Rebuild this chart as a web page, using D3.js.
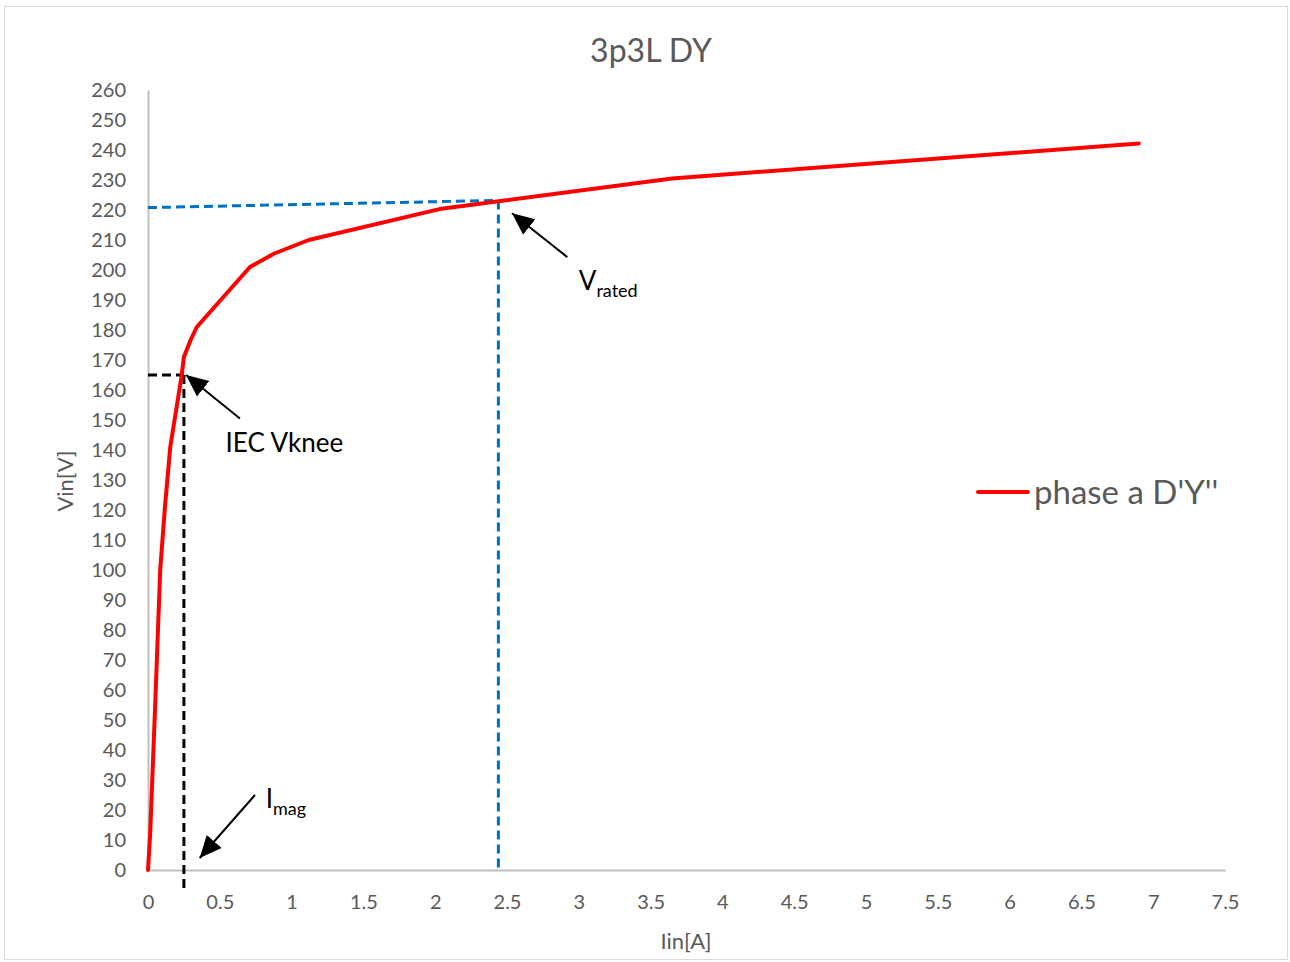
<!DOCTYPE html>
<html>
<head>
<meta charset="utf-8">
<script src="https://cdn.jsdelivr.net/npm/d3@7"></script>
<style>
  body { margin: 0; background: #fff; }
  svg text { font-family: Lato, "Open Sans", sans-serif; }
</style>
</head>
<body>
<svg width="1290" height="962"></svg>
<script>
// magnetising curve
const current = [0, 0.015, 0.05, 0.085, 0.118, 0.155, 0.235, 0.25, 0.3, 0.34, 0.71, 0.88, 1.12, 2.03, 3.65, 6.9];
const voltage = [0, 12, 55, 100, 121, 141, 165, 171, 177, 181, 201, 205.5, 210, 220.3, 230.5, 242.2];

const xTicks = [0, 0.5, 1, 1.5, 2, 2.5, 3, 3.5, 4, 4.5, 5, 5.5, 6, 6.5, 7, 7.5];
const yTicks = d3.range(0, 261, 10);

// guide lines [x1, y1, x2, y2] in data units
const kneeLines = [[0, 165, 0.25, 165], [0.25, 165, 0.25, -6]];
const ratedLines = [[0, 220.8, 2.44, 223.2], [2.44, 223.2, 2.44, 0]];

// annotations: tail and tip of arrow, label position (data units)
const notes = [
  {main: "IEC Vknee", sub: "", tail: [0.64, 150.5], tip: [0.265, 165], at: [0.54, 139.3]},
  {main: "V", sub: "rated", tail: [2.92, 204.3], tip: [2.535, 218.9], at: [3.0, 193.3]},
  {main: "I", sub: "mag", tail: [0.745, 25], tip: [0.36, 4], at: [0.82, 20.7]}
];

const seriesName = "phase a D'Y''";

function main() {
  const svg = d3.select("svg");
  const margin = {top: 90, right: 65, bottom: 92, left: 148};
  const width = 1290, height = 962;

  svg.append("rect")
    .attr("x", 4.5).attr("y", 6.5).attr("width", 1283).attr("height", 953)
    .attr("fill", "#fff").attr("stroke", "#d9d9d9");

  const x = d3.scaleLinear().domain([0, 7.5]).range([margin.left, width - margin.right]);
  const y = d3.scaleLinear().domain([0, 260]).range([height - margin.bottom, margin.top]);

  // axes
  const xAxis = svg.append("g")
    .attr("transform", `translate(0,${y(0)})`)
    .call(d3.axisBottom(x).tickValues(xTicks).tickSize(0).tickPadding(25).tickFormat(d3.format("")));
  xAxis.select(".domain").attr("stroke", "#bfbfbf").attr("stroke-width", 2);
  xAxis.selectAll("text").attr("fill", "#595959").attr("font-size", 20);

  const yAxis = svg.append("g")
    .attr("transform", `translate(${x(0)},0)`)
    .call(d3.axisLeft(y).tickValues(yTicks).tickSize(0).tickPadding(22));
  yAxis.select(".domain").attr("stroke", "#bfbfbf").attr("stroke-width", 2);
  yAxis.selectAll("text").attr("fill", "#595959").attr("font-size", 20);

  // titles
  svg.append("text").attr("x", 651).attr("y", 62).attr("text-anchor", "middle")
    .attr("fill", "#595959").attr("font-size", 32).text("3p3L DY");
  svg.append("text").attr("x", 686).attr("y", 949).attr("text-anchor", "middle")
    .attr("fill", "#595959").attr("font-size", 22).text("Iin[A]");
  svg.append("text").attr("transform", "translate(73,481) rotate(-90)")
    .attr("text-anchor", "middle")
    .attr("fill", "#595959").attr("font-size", 22).text("Vin[V]");

  // guide lines
  const guide = (data, color) => svg.append("g").selectAll("line").data(data).join("line")
    .attr("x1", (d) => x(d[0])).attr("y1", (d) => y(d[1]))
    .attr("x2", (d) => x(d[2])).attr("y2", (d) => y(d[3]))
    .attr("stroke", color).attr("stroke-width", 3).attr("stroke-dasharray", "9,5");
  guide(ratedLines, "#0070c0");
  guide(kneeLines, "#000");

  // curve
  const pts = current.map((c, i) => [c, voltage[i]]);
  svg.append("path")
    .datum(pts)
    .attr("fill", "none")
    .attr("stroke", "#ff0000")
    .attr("stroke-width", 4)
    .attr("stroke-linejoin", "round")
    .attr("stroke-linecap", "round")
    .attr("d", d3.line().x((d) => x(d[0])).y((d) => y(d[1])));

  // arrows
  svg.append("defs").append("marker")
    .attr("id", "head").attr("viewBox", "0 0 10 10")
    .attr("refX", 10).attr("refY", 5)
    .attr("markerWidth", 22).attr("markerHeight", 22)
    .attr("markerUnits", "userSpaceOnUse")
    .attr("orient", "auto")
    .append("path").attr("d", "M0,0.5 L10,5 L0,9.5 z").attr("fill", "#000");

  svg.append("g").selectAll("line").data(notes).join("line")
    .attr("x1", (d) => x(d.tail[0])).attr("y1", (d) => y(d.tail[1]))
    .attr("x2", (d) => x(d.tip[0])).attr("y2", (d) => y(d.tip[1]))
    .attr("stroke", "#000").attr("stroke-width", 2)
    .attr("marker-end", "url(#head)");

  const lab = svg.append("g").selectAll("text").data(notes).join("text")
    .attr("x", (d) => x(d.at[0])).attr("y", (d) => y(d.at[1]))
    .attr("fill", "#000").attr("font-size", 26);
  lab.append("tspan").text((d) => d.main);
  lab.filter((d) => d.sub).append("tspan")
    .attr("dy", 7).attr("font-size", 18).text((d) => d.sub);

  // legend
  svg.append("line").attr("x1", 978).attr("x2", 1028).attr("y1", 492).attr("y2", 492)
    .attr("stroke", "#ff0000").attr("stroke-width", 4).attr("stroke-linecap", "round");
  svg.append("text").attr("x", 1034).attr("y", 504)
    .attr("fill", "#595959").attr("font-size", 33).text(seriesName);
}

main();
</script>
</body>
</html>
